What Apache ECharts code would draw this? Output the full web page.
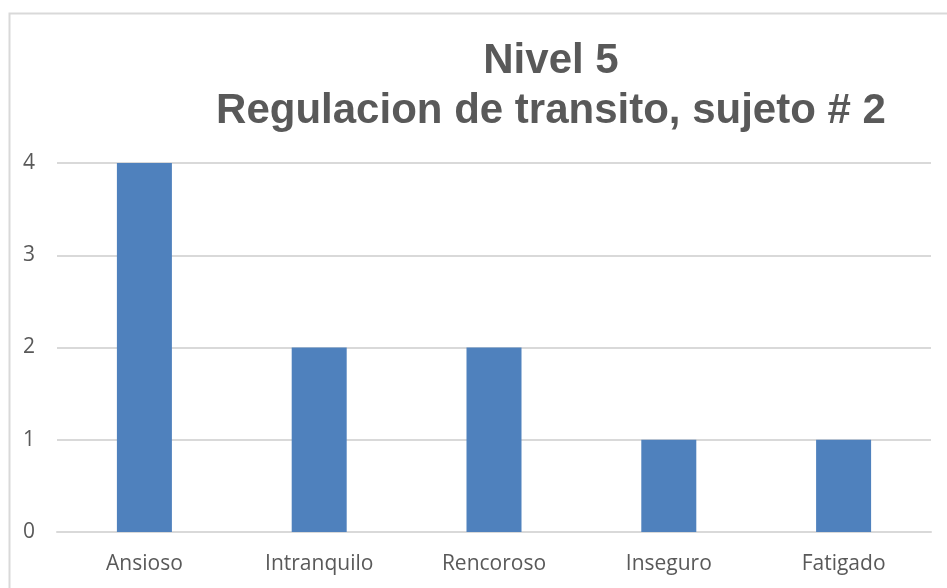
<!DOCTYPE html>
<html lang="es">
<head>
    <meta charset="UTF-8">
    <title>Nivel 5</title>
    <style>
        html, body { margin: 0; padding: 0; background: #fff; }
        #main { width: 947px; height: 588px; }
    </style>
</head>
<body>
    <div id="main"></div>
    <script src="https://cdn.jsdelivr.net/npm/echarts@6.0.0/dist/echarts.min.js"></script>
    <script>
        const categories = ['Ansioso', 'Intranquilo', 'Rencoroso', 'Inseguro', 'Fatigado'];
        const values = [4, 2, 2, 1, 1];
        const yTicks = [0, 1, 2, 3, 4];

        const myChart = echarts.init(document.getElementById('main'));
        const gray = '#595959';
        const option = {
            animation: false,
            backgroundColor: '#fff',
            graphic: [{
                type: 'rect',
                left: 7, top: 11,
                shape: { width: 960, height: 600 },
                style: { fill: 'none', stroke: '#d9d9d9', lineWidth: 2 }
            }],
            title: {
                text: 'Nivel 5\nRegulacion de transito, sujeto # 2',
                left: 551,
                top: 36,
                padding: 0,
                textAlign: 'center',
                textStyle: {
                    fontFamily: 'Liberation Sans, Arial, sans-serif',
                    fontSize: 42,
                    fontWeight: 'bold',
                    color: gray,
                    lineHeight: 50
                }
            },
            grid: { left: 57, right: 16, top: 163, bottom: 56, containLabel: false },
            xAxis: {
                type: 'category',
                data: categories,
                axisLine: { lineStyle: { color: '#d9d9d9', width: 2 } },
                axisTick: { show: false },
                axisLabel: {
                    color: gray,
                    fontFamily: 'Open Sans, sans-serif',
                    fontSize: 21,
                    margin: 22
                }
            },
            yAxis: {
                type: 'value',
                min: yTicks[0],
                max: yTicks[yTicks.length - 1],
                interval: 1,
                axisLine: { show: false },
                axisTick: { show: false },
                splitLine: { lineStyle: { color: '#d9d9d9', width: 2 } },
                axisLabel: {
                    color: gray,
                    fontFamily: 'Open Sans, sans-serif',
                    fontSize: 21,
                    margin: 22
                }
            },
            series: [{
                type: 'bar',
                data: values,
                barWidth: 55,
                itemStyle: { color: '#4f81bd' }
            }]
        };
        myChart.setOption(option);
    </script>
</body>
</html>
